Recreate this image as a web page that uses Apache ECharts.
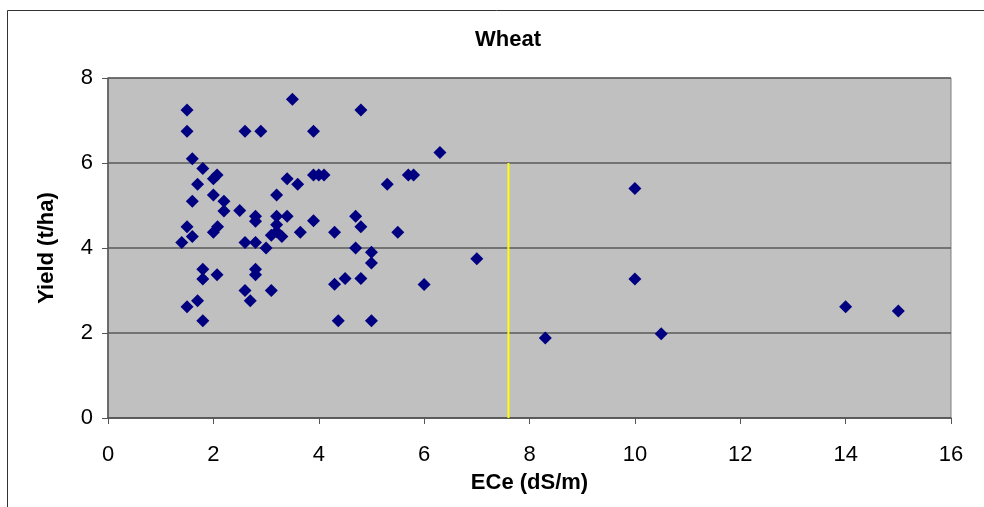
<!DOCTYPE html>
<html>
<head>
<meta charset="utf-8">
<script src="https://cdn.jsdelivr.net/npm/echarts@6/dist/echarts.min.js"></script>
<style>
html,body{margin:0;padding:0;background:#fff;}
#chart{width:984px;height:507px;}
</style>
</head>
<body>
<div id="chart"></div>
<script>
// Data
const ece = [1.5,1.5,2.6,2.9,3.5,3.9,4.8,6.3,1.6,1.8,2.07,2.0,1.7,1.6,2.0,2.2,2.2,2.5,2.8,2.8,3.4,3.6,3.2,3.9,4.0,4.1,3.2,3.4,3.2,3.9,3.65,4.3,1.5,1.6,1.4,2.08,2.0,2.6,2.8,3.0,3.1,3.2,3.3,1.8,1.8,2.07,2.8,2.8,2.6,3.1,2.7,1.7,1.5,1.8,4.3,4.37,5.3,5.7,5.8,4.7,4.8,5.5,4.7,5.0,5.0,7.0,4.5,4.8,6.0,5.0,8.3,10.0,10.0,10.5,14.0,15.0];
const yieldVals = [7.25,6.75,6.75,6.75,7.5,6.75,7.25,6.25,6.1,5.87,5.72,5.63,5.5,5.1,5.25,5.1,4.87,4.88,4.75,4.63,5.63,5.5,5.25,5.72,5.72,5.72,4.75,4.75,4.55,4.64,4.37,4.37,4.5,4.27,4.13,4.5,4.37,4.13,4.13,4.0,4.3,4.38,4.27,3.5,3.27,3.37,3.5,3.37,3.0,3.0,2.76,2.76,2.62,2.29,3.15,2.29,5.5,5.72,5.72,4.75,4.5,4.37,4.0,3.9,3.65,3.75,3.28,3.28,3.14,2.29,1.88,5.4,3.27,1.98,2.62,2.52];
const thresholdX = [7.6, 7.6];
const thresholdY = [0, 6];
const xTicks = [0,2,4,6,8,10,12,14,16];
const yTicks = [0,2,4,6,8];
const titleText = 'Wheat';
const xName = 'ECe (dS/m)';
const yName = 'Yield (t/ha)';

const points = ece.map((x,i)=>[x, yieldVals[i]]);
const threshold = thresholdX.map((x,i)=>[x, thresholdY[i]]);

const chart = echarts.init(document.getElementById('chart'));
const font = 'Liberation Sans, Arial, sans-serif';
chart.setOption({
  animation:false,
  backgroundColor:'#ffffff',
  graphic:[{
    type:'rect', z:-10,
    shape:{x:7.5,y:10.5,width:1000,height:520},
    style:{fill:'#ffffff',stroke:'#333333',lineWidth:1}
  }],
  title:{
    text:titleText, left:503, top:24, textAlign:'center',
    textStyle:{fontFamily:font,fontWeight:'bold',fontSize:22,color:'#000'}
  },
  grid:{
    left:108, right:33, top:78, bottom:89,
    show:true, backgroundColor:'#C0C0C0', borderColor:'#808080', borderWidth:1
  },
  xAxis:{
    type:'value', min:xTicks[0], max:xTicks[xTicks.length-1], interval:2,
    name:xName, nameLocation:'middle', nameGap:54,
    nameTextStyle:{fontFamily:font,fontWeight:'bold',fontSize:22,color:'#000'},
    axisLine:{show:true,onZero:false,lineStyle:{color:'#555555',width:1.5}},
    axisTick:{show:true,inside:false,length:6,lineStyle:{color:'#555555'}},
    axisLabel:{margin:26,fontFamily:font,fontSize:22,color:'#000'},
    splitLine:{show:false}
  },
  yAxis:{
    type:'value', min:yTicks[0], max:yTicks[yTicks.length-1], interval:2,
    name:yName, nameLocation:'middle', nameGap:50, nameRotate:90,
    nameTextStyle:{fontFamily:font,fontWeight:'bold',fontSize:22,color:'#000'},
    axisLine:{show:true,onZero:false,lineStyle:{color:'#555555',width:1.5}},
    axisTick:{show:true,inside:false,length:6,lineStyle:{color:'#555555'}},
    axisLabel:{margin:15,fontFamily:font,fontSize:22,color:'#000'},
    splitLine:{show:true,lineStyle:{color:'#5a5a5a',width:1.5}}
  },
  series:[
    {
      type:'line', data:threshold, showSymbol:false, symbol:'none',
      lineStyle:{color:'#FFFF00',width:2}, z:3
    },
    {
      type:'scatter', data:points, symbol:'diamond', symbolSize:13,
      itemStyle:{color:'#000080',opacity:1}, z:5
    }
  ]
});
</script>
</body>
</html>
